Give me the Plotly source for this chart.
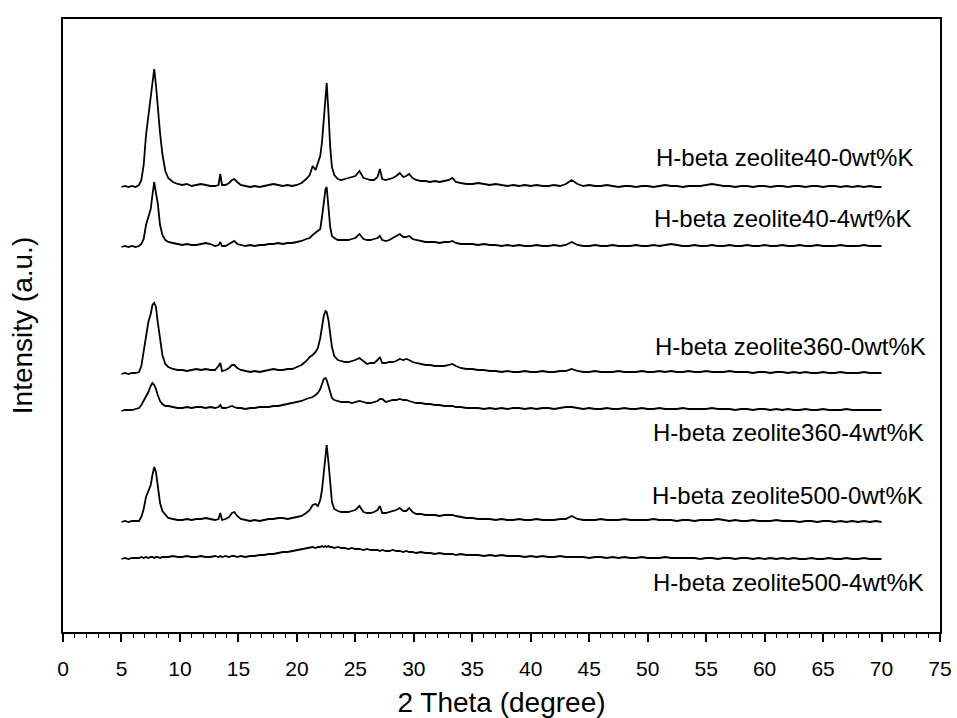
import plotly.graph_objects as go

# 2-theta sampling positions (degrees): dense below 35, 0.5 deg steps above
two_theta_low = [
    5.0, 5.3, 5.6, 5.9, 6.2, 6.5, 6.7, 6.9, 7.1, 7.3,
    7.5, 7.65, 7.8, 7.95, 8.1, 8.3, 8.5, 8.75, 9.0, 9.4,
    9.8, 10.2, 10.6, 11.0, 11.4, 11.8, 12.2, 12.6, 13.0, 13.3,
    13.45, 13.6, 13.9, 14.2, 14.45, 14.65, 14.9, 15.2, 15.6, 16.0,
    16.4, 16.8, 17.2, 17.6, 18.0, 18.4, 18.8, 19.2, 19.6, 20.0,
    20.4, 20.8, 21.1, 21.35, 21.6, 21.8, 22.0, 22.15, 22.3, 22.45,
    22.55, 22.7, 22.85, 23.0, 23.2, 23.5, 23.8, 24.1, 24.4, 24.7,
    25.0, 25.35, 25.7, 26.0, 26.3, 26.6, 26.9, 27.1, 27.3, 27.6,
    27.9, 28.2, 28.5, 28.8, 29.1, 29.35, 29.6, 29.9, 30.2, 30.6,
    31.0, 31.4, 31.8, 32.2, 32.6, 33.0, 33.3, 33.6, 34.0, 34.5,
]
two_theta_high = [
    35.0, 35.5, 36.0, 36.5, 37.0, 37.5, 38.0, 38.5, 39.0, 39.5,
    40.0, 40.5, 41.0, 41.5, 42.0, 42.5, 43.0, 43.5, 44.0, 44.5,
    45.0, 45.5, 46.0, 46.5, 47.0, 47.5, 48.0, 48.5, 49.0, 49.5,
    50.0, 50.5, 51.0, 51.5, 52.0, 52.5, 53.0, 53.5, 54.0, 54.5,
    55.0, 55.5, 56.0, 56.5, 57.0, 57.5, 58.0, 58.5, 59.0, 59.5,
    60.0, 60.5, 61.0, 61.5, 62.0, 62.5, 63.0, 63.5, 64.0, 64.5,
    65.0, 65.5, 66.0, 66.5, 67.0, 67.5, 68.0, 68.5, 69.0, 69.5,
    70.0,
]

# Intensities (a.u.) of each pattern on the same 2-theta positions
h40_0k = [
    0, 1, 0, 1, 0, 2, 7, 22, 52, 72,
    92, 108, 118, 102, 80, 54, 33, 16, 9, 5,
    3, 2, 3, 1, 2, 3, 2, 1, 1, 2,
    13, 2, 2, 4, 7, 8, 5, 2, 1, 0,
    1, 0, 1, 2, 3, 2, 1, 2, 1, 2,
    4, 8, 12, 21, 17, 24, 31, 45, 68, 95,
    104, 75, 40, 20, 12, 8, 7, 8, 9, 10,
    11, 16, 9, 8, 7, 7, 10, 18, 8, 7,
    8, 9, 11, 14, 10, 11, 13, 9, 7, 6,
    6, 5, 6, 5, 6, 7, 9, 5, 4, 3,
    3, 4, 3, 2, 3, 2, 1, 2, 1, 2,
    1, 2, 1, 1, 2, 1, 3, 7, 3, 1,
    2, 1, 1, 2, 1, 0, 1, 1, 0, 1,
    1, 0, 1, 2, 1, 1, 0, 1, 1, 1,
    2, 3, 2, 1, 1, 0, 1, 1, 0, 1,
    1, 0, 1, 1, 0, 1, 1, 0, 1, 1,
    0, 1, 1, 0, 1, 0, 1, 0, 1, 0,
    0,
]
h40_4k = [
    0, 1, 0, 1, 0, 1, 3, 8, 22, 29,
    38, 52, 65, 54, 44, 22, 12, 7, 5, 4,
    3, 2, 3, 2, 2, 3, 4, 3, 1, 2,
    5, 1, 1, 3, 5, 6, 3, 2, 1, 2,
    1, 2, 2, 3, 3, 4, 3, 4, 4, 5,
    6, 8, 9, 12, 14, 16, 18, 30, 45, 58,
    60, 40, 20, 11, 9, 7, 7, 7, 7, 8,
    9, 13, 8, 7, 7, 8, 9, 11, 7, 6,
    7, 9, 11, 13, 10, 10, 11, 8, 7, 6,
    5, 5, 5, 4, 5, 5, 6, 4, 3, 3,
    3, 2, 3, 2, 2, 1, 2, 1, 2, 1,
    1, 2, 1, 1, 2, 1, 2, 5, 2, 1,
    1, 2, 1, 1, 2, 1, 1, 1, 2, 1,
    1, 2, 1, 2, 3, 2, 1, 1, 2, 1,
    1, 2, 1, 1, 2, 1, 1, 2, 1, 1,
    2, 1, 1, 2, 1, 1, 2, 1, 1, 2,
    1, 1, 1, 2, 1, 1, 1, 2, 1, 1,
    1,
]
h360_0k = [
    0, 1, 0, 1, 1, 2, 8, 22, 40, 52,
    60, 69, 71, 67, 52, 33, 19, 10, 7, 5,
    4, 4, 3, 4, 5, 4, 5, 4, 4, 8,
    11, 3, 4, 6, 9, 9, 6, 4, 3, 2,
    3, 2, 3, 4, 5, 4, 4, 5, 5, 7,
    9, 13, 17, 19, 22, 26, 36, 47, 58, 63,
    62, 54, 40, 27, 18, 14, 13, 12, 12, 13,
    14, 16, 13, 10, 11, 11, 14, 17, 11, 11,
    12, 12, 13, 15, 14, 15, 14, 12, 11, 10,
    9, 9, 8, 8, 8, 9, 10, 8, 6, 5,
    5, 4, 4, 3, 3, 2, 3, 2, 2, 3,
    2, 2, 3, 2, 2, 3, 3, 5, 3, 2,
    2, 3, 2, 2, 2, 3, 2, 2, 2, 3,
    2, 2, 3, 2, 3, 2, 2, 3, 2, 2,
    3, 2, 2, 2, 3, 2, 2, 2, 1, 2,
    2, 1, 2, 2, 1, 2, 1, 2, 1, 1,
    2, 1, 1, 2, 1, 1, 1, 2, 1, 1,
    1,
]
h360_4k = [
    0, 1, 1, 1, 2, 3, 6, 10, 14, 19,
    25, 28, 26, 22, 16, 10, 7, 5, 5, 4,
    3, 3, 4, 3, 4, 4, 3, 4, 3, 4,
    6, 3, 3, 4, 5, 4, 3, 3, 2, 3,
    3, 4, 4, 4, 5, 5, 6, 7, 8, 9,
    10, 12, 13, 14, 16, 18, 22, 27, 32, 33,
    31, 25, 18, 13, 11, 10, 9, 9, 9, 8,
    9, 10, 9, 8, 8, 9, 10, 12, 12, 9,
    10, 11, 11, 12, 11, 11, 10, 9, 8, 8,
    7, 7, 6, 6, 5, 5, 5, 4, 4, 3,
    3, 3, 2, 3, 2, 3, 2, 3, 3, 2,
    3, 2, 3, 3, 2, 3, 4, 4, 3, 2,
    3, 2, 2, 3, 2, 2, 3, 2, 2, 3,
    2, 2, 3, 2, 2, 2, 3, 2, 2, 2,
    2, 3, 2, 2, 2, 1, 2, 2, 1, 2,
    2, 1, 2, 1, 2, 1, 1, 2, 1, 1,
    2, 1, 1, 1, 2, 1, 1, 1, 1, 1,
    1,
]
h500_0k = [
    0, 1, 0, 1, 1, 1, 5, 13, 25, 32,
    37, 47, 55, 50, 38, 19, 11, 7, 4, 3,
    2, 2, 3, 2, 3, 3, 4, 3, 2, 3,
    9, 2, 3, 5, 9, 10, 6, 3, 2, 1,
    2, 1, 2, 3, 3, 4, 4, 3, 4, 5,
    6, 9, 12, 17, 18, 16, 22, 32, 50, 70,
    77, 60, 36, 20, 13, 11, 10, 10, 10, 11,
    12, 16, 10, 9, 9, 10, 12, 16, 9, 9,
    10, 11, 12, 14, 11, 11, 14, 10, 8, 8,
    7, 7, 7, 6, 7, 7, 7, 6, 5, 4,
    4, 3, 3, 3, 2, 3, 2, 2, 3, 2,
    2, 3, 2, 2, 2, 3, 3, 6, 3, 2,
    2, 2, 3, 2, 2, 2, 3, 2, 2, 2,
    2, 3, 2, 2, 2, 1, 2, 2, 1, 2,
    2, 2, 3, 2, 1, 2, 1, 1, 2, 1,
    1, 1, 2, 1, 1, 1, 0, 1, 1, 0,
    1, 1, 0, 1, 0, 1, 0, 1, 0, 1,
    0,
]
h500_4k = [
    0, 1, 0, 1, 1, 1, 2, 1, 2, 1,
    2, 2, 1, 2, 2, 1, 2, 2, 2, 3,
    2, 2, 3, 2, 2, 3, 2, 2, 3, 2,
    3, 2, 3, 2, 3, 3, 2, 3, 2, 3,
    3, 4, 4, 5, 5, 6, 7, 7, 8, 9,
    10, 11, 11, 12, 11, 12, 12, 13, 12, 13,
    12, 13, 12, 12, 11, 12, 11, 11, 10, 11,
    10, 10, 9, 10, 9, 9, 9, 8, 9, 8,
    8, 9, 8, 8, 7, 8, 7, 7, 6, 7,
    6, 6, 5, 6, 5, 5, 5, 4, 5, 4,
    4, 4, 3, 4, 3, 4, 3, 3, 3, 2,
    3, 2, 3, 2, 2, 3, 2, 2, 2, 2,
    1, 2, 2, 1, 2, 1, 2, 1, 1, 2,
    1, 1, 1, 2, 1, 1, 1, 1, 1, 0,
    1, 1, 0, 1, 1, 0, 1, 1, 0, 1,
    0, 1, 0, 1, 0, 1, 0, 0, 1, 0,
    0, 1, 0, 0, 1, 0, 0, 1, 0, 0,
    0,
]

sample_names = [
    "H-beta zeolite40-0wt%K",
    "H-beta zeolite40-4wt%K",
    "H-beta zeolite360-0wt%K",
    "H-beta zeolite360-4wt%K",
    "H-beta zeolite500-0wt%K",
    "H-beta zeolite500-4wt%K",
]
patterns = [h40_0k, h40_4k, h360_0k, h360_4k, h500_0k, h500_4k]
# vertical stacking offsets (a.u.) for each pattern
stack_offsets = [445, 385, 258, 221, 110, 73]

two_theta = two_theta_low + two_theta_high

# label placement: (right edge 2-theta, height a.u.)
label_pos = [(72.85, 475), (72.7, 414), (74.0, 286), (73.8, 200), (73.7, 137), (73.8, 50)]

FONT = "Liberation Sans, Arial, sans-serif"

fig = go.Figure()
for name, inten, off in zip(sample_names, patterns, stack_offsets):
    assert len(inten) == len(two_theta)
    fig.add_trace(go.Scatter(
        x=two_theta,
        y=[v + off for v in inten],
        mode="lines",
        name=name,
        line=dict(color="black", width=1.8),
        showlegend=False,
    ))

for name, (lx, ly) in zip(sample_names, label_pos):
    fig.add_annotation(
        x=lx, y=ly, xref="x", yref="y", text=name, showarrow=False,
        xanchor="right", yanchor="middle",
        font=dict(family=FONT, size=24, color="black"),
    )

fig.update_layout(
    width=957, height=718,
    margin=dict(l=63, r=17, t=19, b=86, autoexpand=False),
    paper_bgcolor="white", plot_bgcolor="white",
    font=dict(family=FONT, color="black"),
)
fig.update_xaxes(
    range=[0, 75], tick0=0, dtick=5, automargin=False,
    ticks="outside", ticklen=8, tickwidth=1.5, tickcolor="black",
    minor=dict(dtick=1, ticks="outside", ticklen=4, tickwidth=1.2, tickcolor="black"),
    showline=True, linecolor="black", linewidth=1.8, mirror=True,
    showgrid=False, zeroline=False,
    tickfont=dict(family=FONT, size=21, color="black"),
    ticklabelstandoff=9,
    title=dict(text="2 Theta (degree)", font=dict(family=FONT, size=28, color="black"), standoff=25),
)
fig.update_yaxes(
    range=[0, 613], automargin=False,
    showticklabels=False, ticks="",
    showline=True, linecolor="black", linewidth=1.8, mirror=True,
    showgrid=False, zeroline=False,
    title=dict(text="Intensity (a.u.)", font=dict(family=FONT, size=28, color="black"), standoff=20),
)

fig.write_html("out.html")
